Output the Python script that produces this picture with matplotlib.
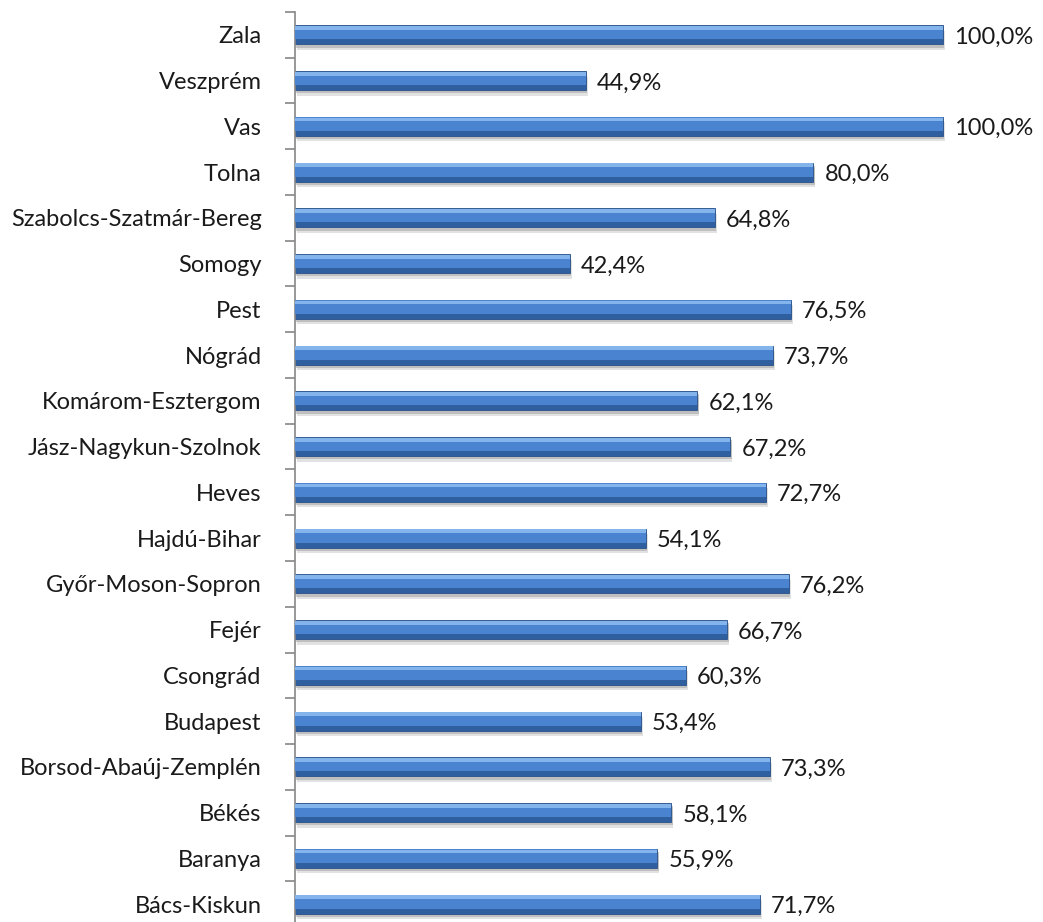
import numpy as np
import matplotlib.pyplot as plt
from matplotlib import ticker as tick

# megyek alulrol felfele (ahogy a diagramon)
megyek = ["Bács-Kiskun", "Baranya", "Békés", "Borsod-Abaúj-Zemplén", "Budapest",
          "Csongrád", "Fejér", "Győr-Moson-Sopron", "Hajdú-Bihar", "Heves",
          "Jász-Nagykun-Szolnok", "Komárom-Esztergom", "Nógrád", "Pest", "Somogy",
          "Szabolcs-Szatmár-Bereg", "Tolna", "Vas", "Veszprém", "Zala"]
ertekek = [71.7, 55.9, 58.1, 73.3, 53.4, 60.3, 66.7, 76.2, 54.1, 72.7,
           67.2, 62.1, 73.7, 76.5, 42.4, 64.8, 80.0, 100.0, 44.9, 100.0]

plt.rcParams['font.family'] = ['Lato', 'DejaVu Sans']
meret = 17

W, H = 1043, 922
fig = plt.figure(figsize=(W / 100, H / 100), dpi=100)
# tengely pixelben: bal 295, felso 12, also ~927, 100% -> 943
bal, felso, also = 295, 12, 927
szel = (943 - bal) * 1.15
ax = fig.add_axes([bal / W, (H - also) / H, szel / W, (also - felso) / H])

y = np.arange(len(megyek))
h = 0.42
# arnyek
ax.barh(y - 0.12, ertekek, height=h, left=0.3, color='#d0d0d0', alpha=0.6, linewidth=0, zorder=1)
ax.barh(y - 0.07, ertekek, height=h, left=0.2, color='#a8a8a8', alpha=0.6, linewidth=0, zorder=1)
# fo oszlop, also sotet resz
ax.barh(y, ertekek, height=h, color='#2f5f9f', edgecolor='#28518a', linewidth=0.6, zorder=2)
# kozepso kek
ax.barh(y + h * 0.12, ertekek, height=h * 0.7, color='#4a84d0', linewidth=0, zorder=3)
# vilagos teteje
ax.barh(y + h * 0.36, ertekek, height=h * 0.2, color='#84b4ec', linewidth=0, zorder=4)

for yi, v in zip(y, ertekek):
    ax.text(v + 1.7, yi - 0.05, f"{v:.1f}%".replace('.', ','), va='center', ha='left',
            fontsize=meret, color='#1a1a1a')

ax.set_xlim(0, 115)
ax.set_ylim(-0.5, len(megyek) - 0.5)
ax.set_yticks(y)
ax.set_yticklabels(megyek, fontsize=meret, color='#1a1a1a')
ax.yaxis.set_minor_locator(tick.FixedLocator(np.arange(-0.5, len(megyek), 1)))
ax.tick_params(axis='y', which='major', length=0, pad=24)
ax.tick_params(axis='y', which='minor', length=7, color='#868686', width=1.2)
ax.set_xticks([])
for s in ['top', 'right', 'bottom']:
    ax.spines[s].set_visible(False)
ax.spines['left'].set_color('#868686')
ax.spines['left'].set_linewidth(1.2)

fig.savefig('out.png', dpi=100)
